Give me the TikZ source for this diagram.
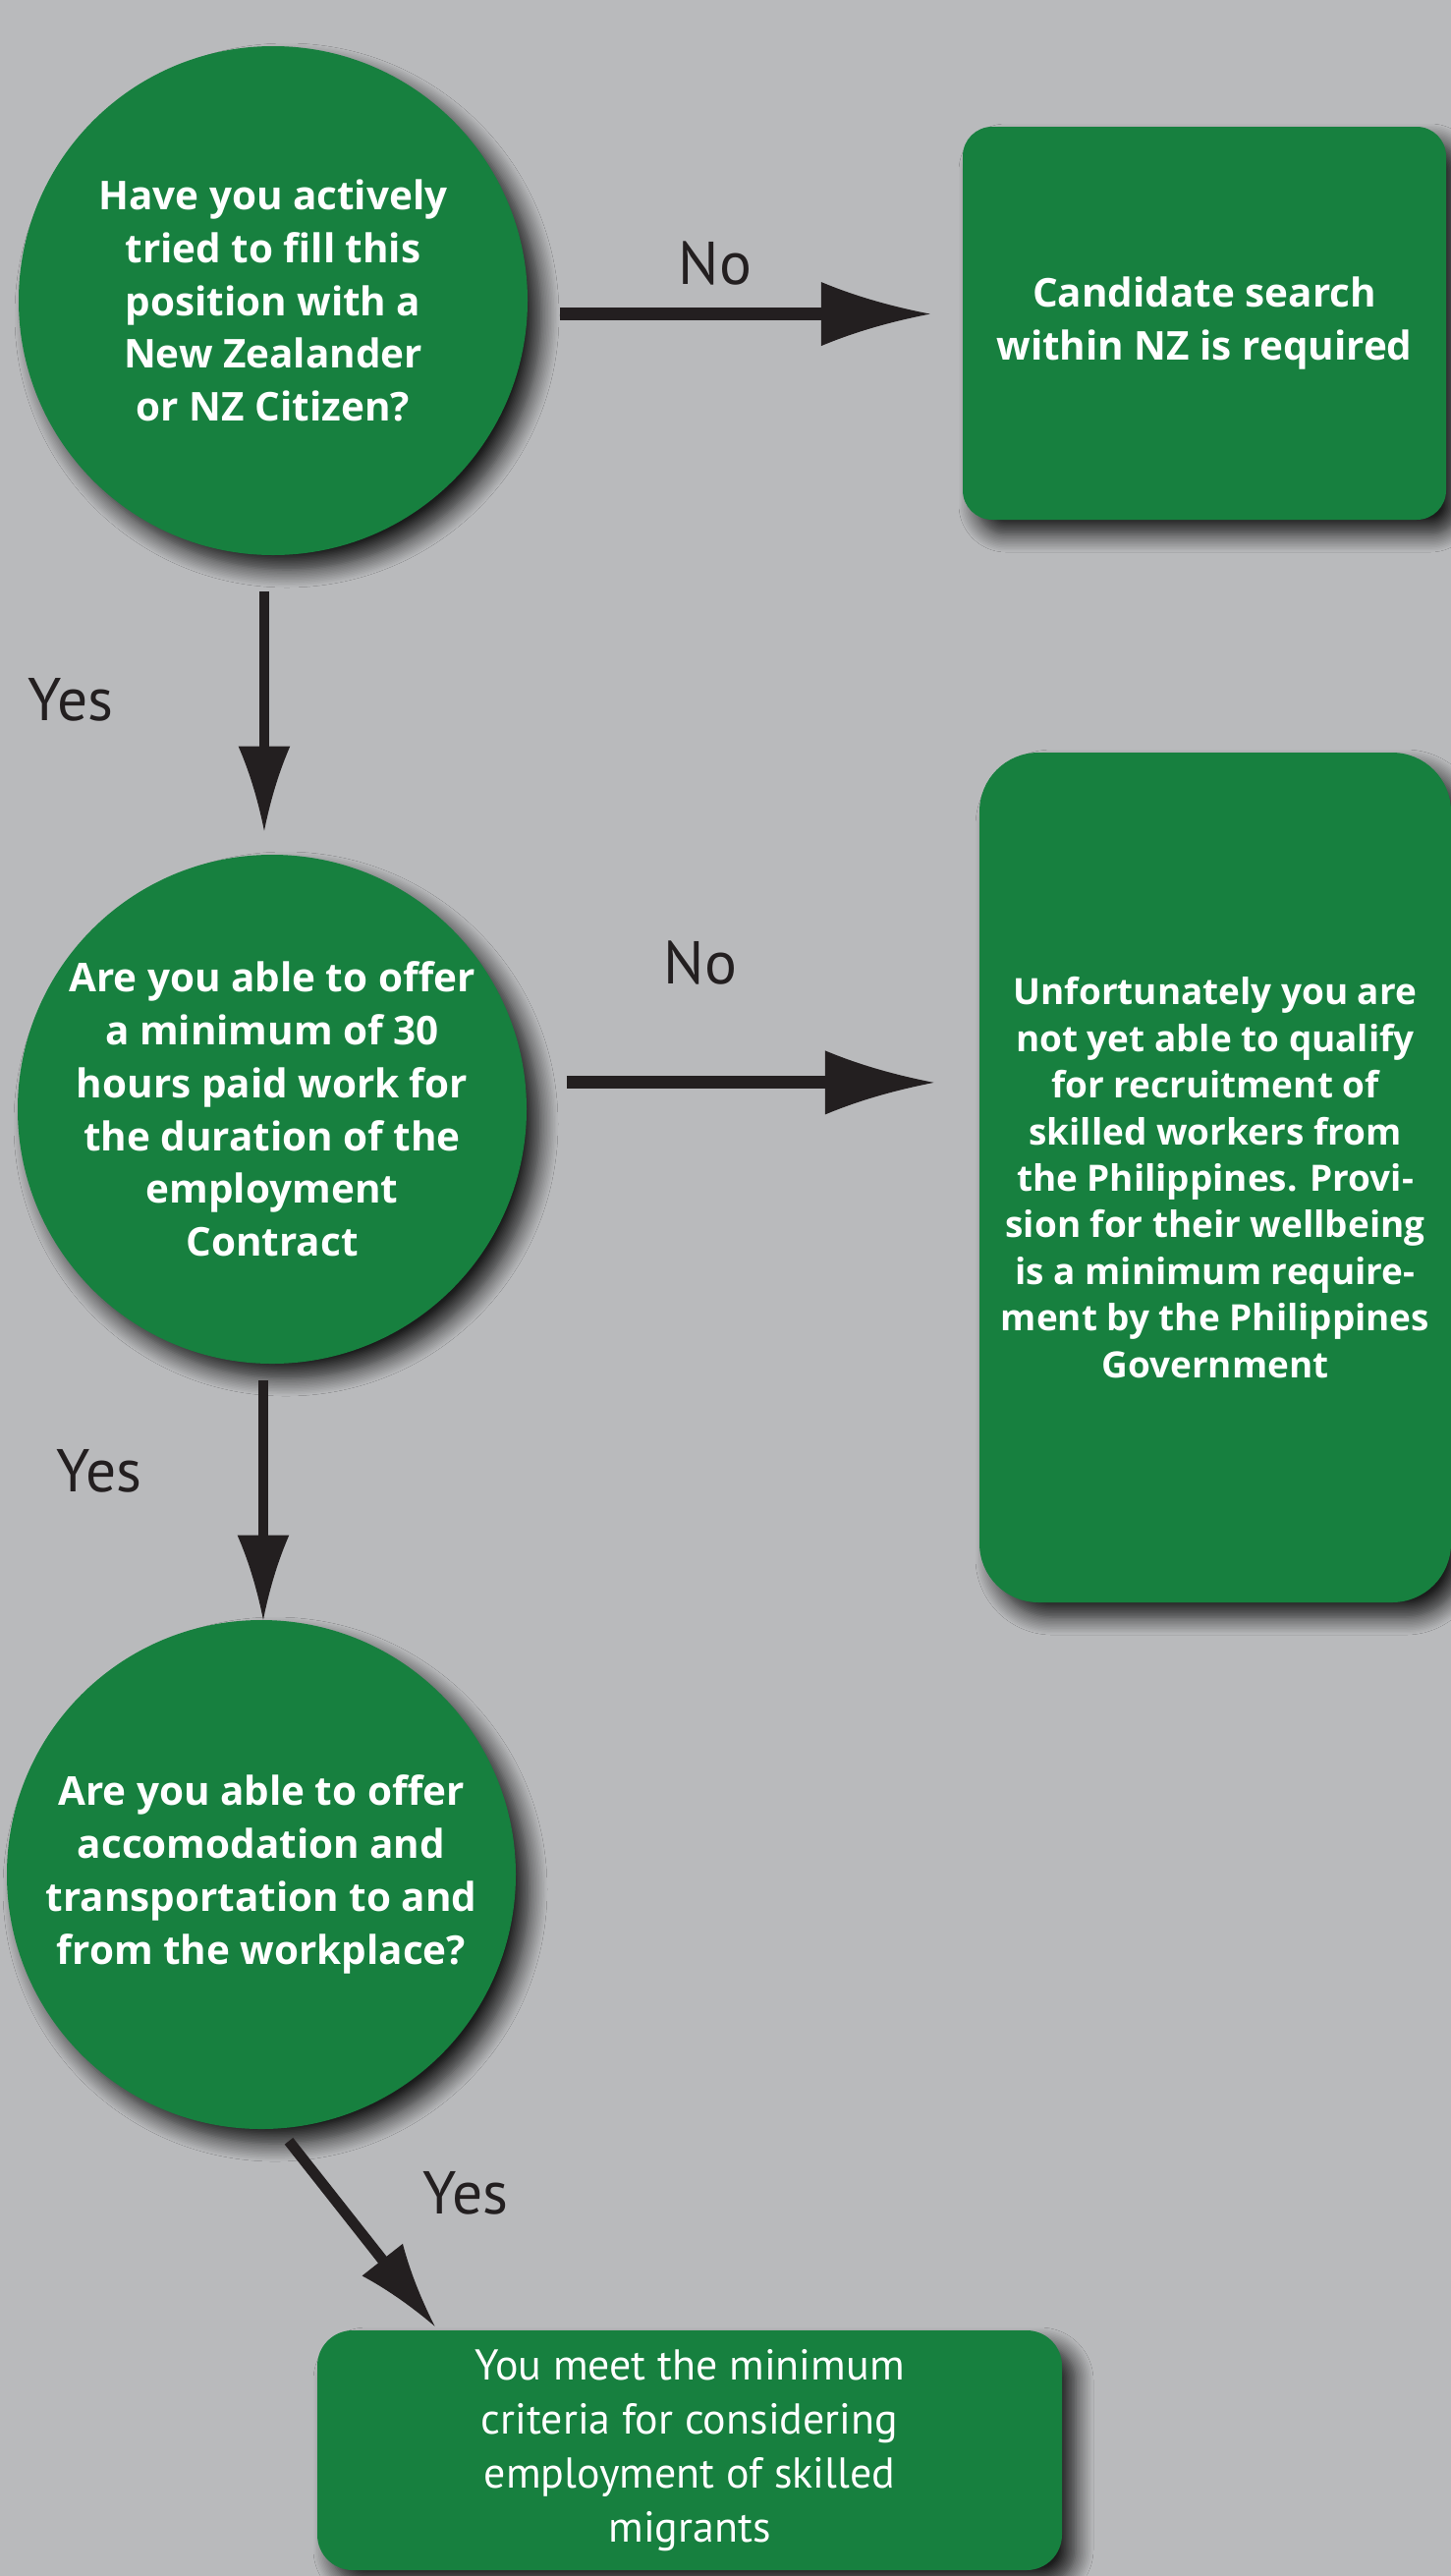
\documentclass[tikz,border=0pt]{standalone}
\usepackage{fontspec}
\setmainfont{PT Sans}
\newfontfamily\boxfont{Open Sans}
\usepackage{tikz}
\usetikzlibrary{arrows.meta, shadows.blur}

\definecolor{leafgreen}{HTML}{17803F}
\definecolor{panelgray}{HTML}{B9BABC}
\definecolor{inkblack}{HTML}{231F20}

% arrow head with a flat back and hollow flanks
\pgfdeclarearrow{
  name = Cusp,
  defaults = {length = 12pt, width = 8pt},
  setup code = {
    \pgfarrowssettipend{0pt}
    \pgfarrowssetbackend{-\pgfarrowlength}
    \pgfarrowssetvisualbackend{-\pgfarrowlength}
    \pgfarrowssetlineend{-.9\pgfarrowlength}
    \pgfarrowshullpoint{0pt}{0pt}
    \pgfarrowsupperhullpoint{-\pgfarrowlength}{.5\pgfarrowwidth}
    \pgfarrowssavethe\pgfarrowlength
    \pgfarrowssavethe\pgfarrowwidth
  },
  drawing code = {
    \pgfpathmoveto{\pgfpointorigin}
    \pgfpathcurveto{\pgfqpoint{-.3\pgfarrowlength}{.1\pgfarrowwidth}}
                   {\pgfqpoint{-.65\pgfarrowlength}{.25\pgfarrowwidth}}
                   {\pgfqpoint{-\pgfarrowlength}{.5\pgfarrowwidth}}
    \pgfpathlineto{\pgfqpoint{-\pgfarrowlength}{-.5\pgfarrowwidth}}
    \pgfpathcurveto{\pgfqpoint{-.65\pgfarrowlength}{-.25\pgfarrowwidth}}
                   {\pgfqpoint{-.3\pgfarrowlength}{-.1\pgfarrowwidth}}
                   {\pgfpointorigin}
    \pgfpathclose
    \pgfusepathqfill
  },
  parameters = {\the\pgfarrowlength,\the\pgfarrowwidth},
}

\begin{document}
\begin{tikzpicture}[x=2cm, y=2cm,
    softshadow/.style={blur shadow={shadow xshift=0.28cm, shadow yshift=-0.3cm,
        shadow blur radius=0.36cm, shadow blur steps=12, shadow opacity=85}},
    question/.style={circle, fill=leafgreen, text=white, softshadow,
        minimum size=10.36cm, inner sep=0pt, align=center,
        font=\fontsize{23}{30.6}\selectfont\boxfont\bfseries},
    outcome/.style={rectangle, fill=leafgreen, text=white, softshadow,
        inner sep=0pt, align=center},
    answer/.style={text=inkblack, inner sep=0pt, font=\fontsize{35}{40}\selectfont},
    noflow/.style={draw=inkblack, line width=7.4pt, -{Cusp[length=63pt, width=37pt]}},
    yesflow/.style={draw=inkblack, line width=6.2pt, -{Cusp[length=49pt, width=30pt]}}]

  % --- page ---
  \path[fill=panelgray, use as bounding box] (0,0) rectangle (14.77,-26.22);

  % --- the three questions ---
  \node[question] (c1) at (2.78,-3.06)
       {Have you actively\\ tried to fill this\\ position with a\\ New Zealander\\ or NZ Citizen?};
  \node[question] (c2) at (2.77,-11.29)
       {Are you able to offer\\ a minimum of 30\\ hours paid work for\\ the duration of the\\ employment\\ Contract};
  \node[question] (c3) at (2.66,-19.08)
       {Are you able to offer\\ accomodation and\\ transportation to and\\ from the workplace?};

  % --- outcomes ---
  \node[outcome, minimum width=9.84cm, minimum height=8.0cm, rounded corners=0.6cm,
        font=\fontsize{23}{30.6}\selectfont\boxfont\bfseries] (b1) at (12.26,-3.29)
       {Candidate search\\ within NZ is required};
  \node[outcome, minimum width=9.6cm, minimum height=17.3cm, rounded corners=1.2cm,
        font=\fontsize{21}{27}\selectfont\boxfont\bfseries] (b2) at (12.37,-11.985)
       {Unfortunately you are\\ not yet able to qualify\\ for recruitment of\\ skilled workers from\\
        the Philippines. Provi-\\ sion for their wellbeing\\ is a minimum require-\\
        ment by the Philippines\\ Government};
  \node[outcome, minimum width=15.16cm, minimum height=4.88cm, rounded corners=0.72cm,
        font=\fontsize{25}{31.2}\selectfont] (b3) at (7.02,-24.94)
       {You meet the minimum\\ criteria for considering\\ employment of skilled\\ migrants};

  % --- "no" branches ---
  \draw[noflow, shorten <=0.66cm, shorten >=0.66cm] (c1.-3.3) -- (c1.-3.3 -| b1.west);
  \draw[noflow, shorten <=0.84cm, shorten >=0.92cm] (c2.6.4) -- (c2.6.4 -| b2.west);
  \node[answer] (no1) at (7.28,-2.68) {No};
  \node[answer] (no2) at (7.13,-9.80) {No};

  % --- "yes" branches ---
  \draw[yesflow, shorten <=0.74cm, shorten >=0.48cm] (c1.-92.6) -- (c1.-92.6 |- c2.north);
  \draw[yesflow, shorten <=0.34cm] (c2.-92.2) -- (c2.-92.2 |- c3.north);
  \draw[yesflow, shorten <=0.32cm, shorten >=0.1cm] (c3.-86.7) -- ([xshift=2.46cm]b3.north west);
  \node[answer] (yes1) at (0.72,-7.12) {Yes};
  \node[answer] (yes2) at (1.01,-14.97) {Yes};
  \node[answer] (yes3) at (4.74,-22.32) {Yes};
\end{tikzpicture}
\end{document}
